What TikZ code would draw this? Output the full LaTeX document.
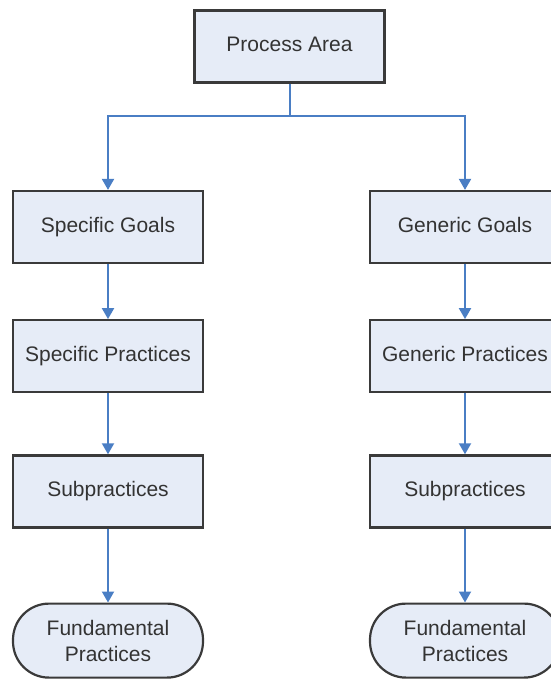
\documentclass[tikz,border=0pt]{standalone}
\usepackage{fontspec}
\setmainfont{Liberation Sans}
\usepackage{xcolor}
\usepackage{tikz}
\usetikzlibrary{arrows.meta,positioning}

\definecolor{boxfill}{HTML}{E6ECF7}
\definecolor{boxline}{HTML}{3A3A3A}
\definecolor{flowblue}{HTML}{4A7EC4}

\begin{document}
\begin{tikzpicture}[x=1pt, y=-1pt,
	box/.style={rectangle, draw=boxline, fill=boxfill, line width=2.2pt, minimum width=190pt, minimum height=72pt, align=center, text=black!80, text height=15pt, text depth=4pt, font=\fontsize{21}{26}\selectfont},
	term/.style={box, text height={}, text depth={}, minimum height=74pt, rounded corners=36pt},
	flow/.style={draw=flowblue, line width=2pt, -{Triangle[width=12pt,length=11pt]}},
	link/.style={draw=flowblue, line width=2pt}]
	\useasboundingbox (0,0) rectangle (550,682);
	% top
	\node[box] (pa) at (289.5,46.5) {Process Area};
	\coordinate (split) at (289.5,116);
	% specific branch
	\node[box] (sg) at (108,227) {Specific Goals};
	\node[box, below=55pt of sg] (sp) {Specific Practices};
	\node[box, below=61pt of sp] (ssub) {Subpractices};
	\node[term, below=74pt of ssub] (sfp) {Fundamental\\Practices};
	% generic branch
	\node[box] (gg) at (465,227) {Generic Goals};
	\node[box, below=55pt of gg] (gp) {Generic Practices};
	\node[box, below=61pt of gp] (gsub) {Subpractices};
	\node[term, below=74pt of gsub] (gfp) {Fundamental\\Practices};
	% connectors
	\draw[link] (pa) -- (split);
	\draw[flow] (split) -| (sg);
	\draw[flow] (split) -| (gg);
	\draw[flow] (sg) -- (sp);
	\draw[flow] (sp) -- (ssub);
	\draw[flow] (ssub) -- (sfp);
	\draw[flow] (gg) -- (gp);
	\draw[flow] (gp) -- (gsub);
	\draw[flow] (gsub) -- (gfp);
\end{tikzpicture}
\end{document}
